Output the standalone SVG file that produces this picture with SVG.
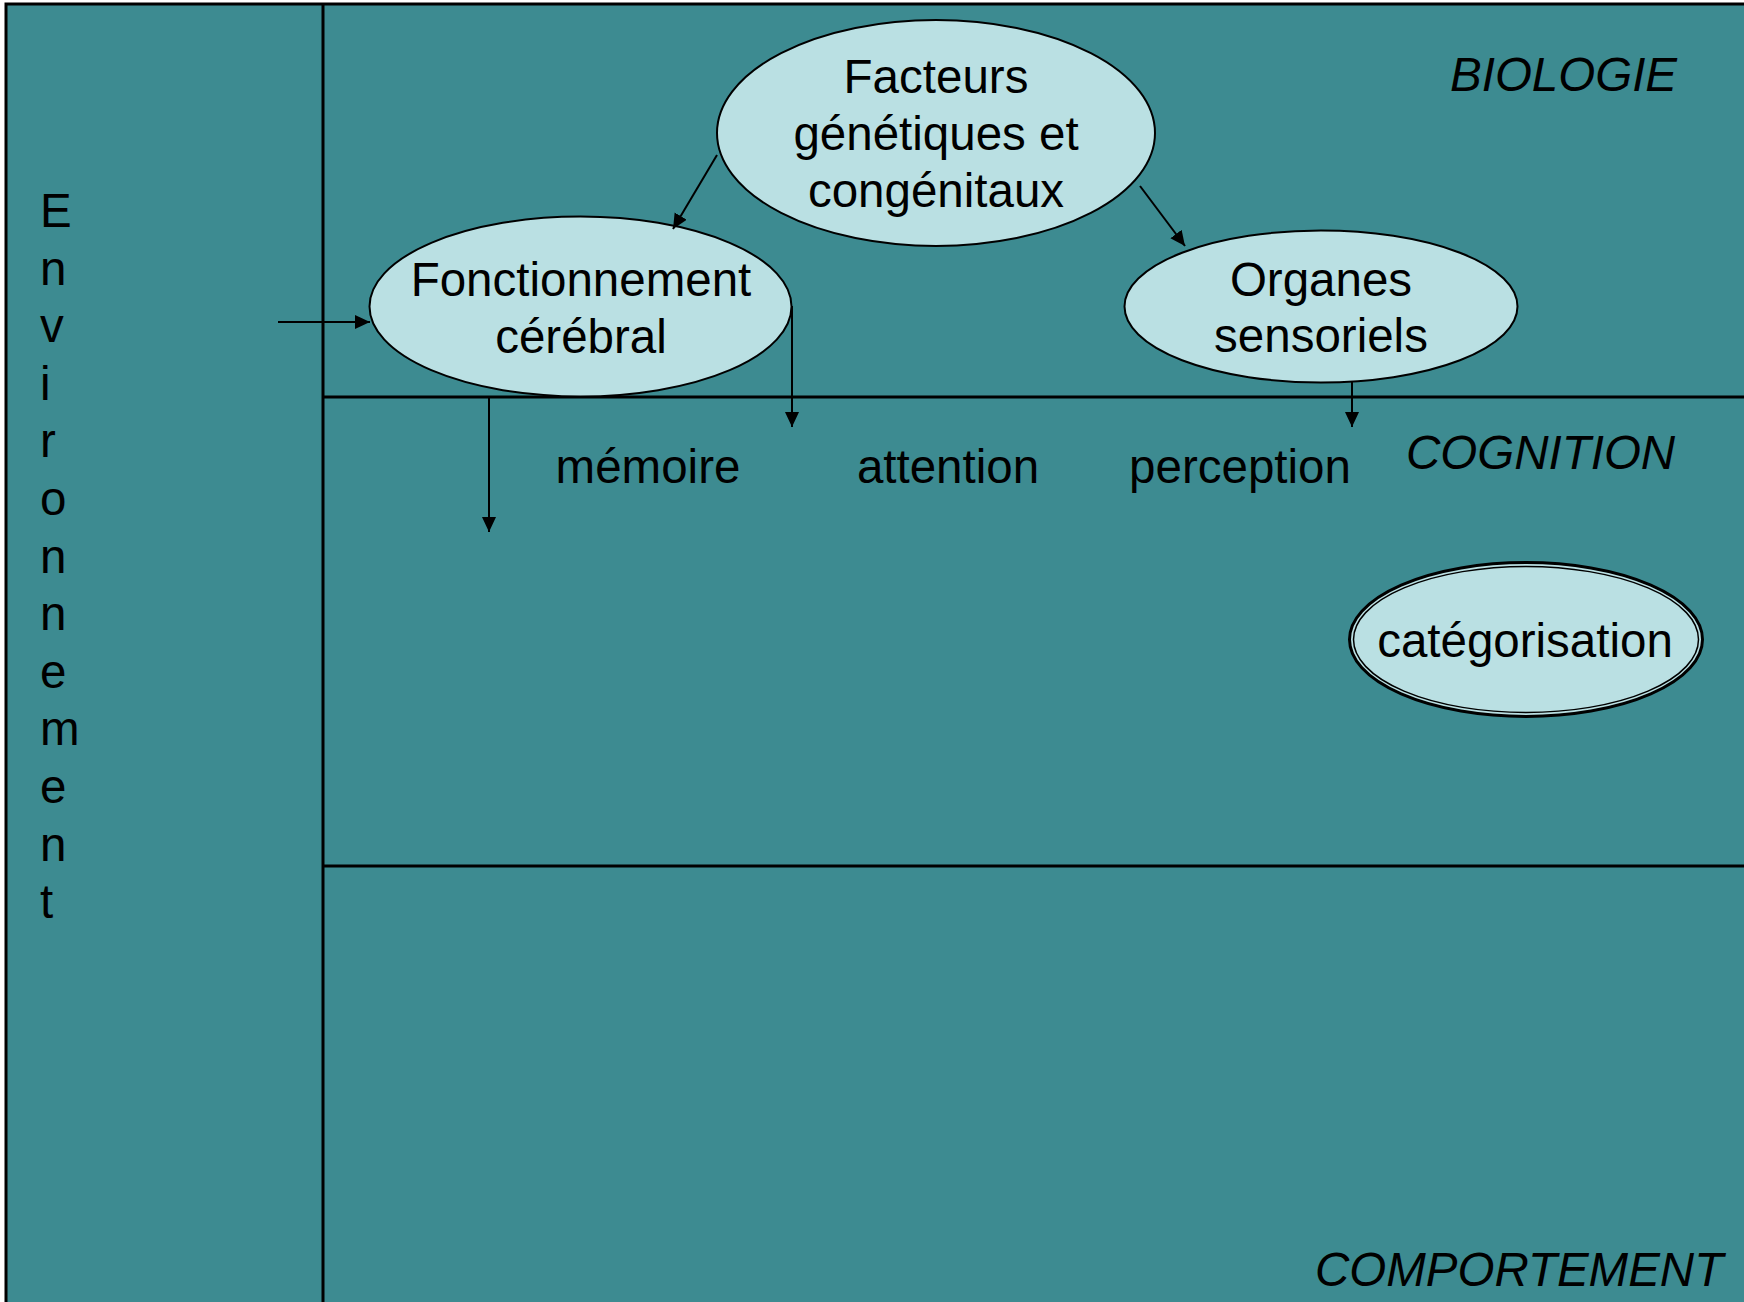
<svg xmlns="http://www.w3.org/2000/svg" width="1744" height="1302" viewBox="0 0 1744 1302">
<style>
  .t{font-family:"Liberation Sans",Arial,sans-serif;font-size:47.5px;fill:#000}
  .c{text-anchor:middle}
  .i{font-style:italic}
  .node{fill:#bae0e3;stroke:#000;stroke-width:2}
  .lane{stroke:#000;stroke-width:3}
  .conn line{stroke:#000;stroke-width:2}
</style>
<defs>
  <marker id="ah" markerUnits="userSpaceOnUse" markerWidth="16" markerHeight="16" refX="15" refY="7" orient="auto">
    <path d="M0,0 L15,7 L0,14 Z" fill="#000"/>
  </marker>
</defs>
<rect width="1744" height="1302" fill="#ffffff"/>
<g id="lanes">
  <rect x="6" y="4" width="1760" height="1320" class="lane" style="fill:#3d8b91"/>
  <line x1="323" y1="4" x2="323" y2="1310" class="lane"/>
  <line x1="323" y1="397" x2="1750" y2="397" class="lane"/>
  <line x1="323" y1="866" x2="1750" y2="866" class="lane"/>
</g>
<g id="env">
  <text class="t" x="40">
    <tspan x="40" y="227">E</tspan>
    <tspan x="40" y="284.6">n</tspan>
    <tspan x="40" y="342.2">v</tspan>
    <tspan x="40" y="399.8">i</tspan>
    <tspan x="40" y="457.4">r</tspan>
    <tspan x="40" y="515">o</tspan>
    <tspan x="40" y="572.6">n</tspan>
    <tspan x="40" y="630.2">n</tspan>
    <tspan x="40" y="687.8">e</tspan>
    <tspan x="40" y="745.4">m</tspan>
    <tspan x="40" y="803">e</tspan>
    <tspan x="40" y="860.6">n</tspan>
    <tspan x="40" y="918.2">t</tspan>
  </text>
</g>
<g id="lane-labels">
  <text class="t i" x="1450" y="91">BIOLOGIE</text>
  <text class="t i" x="1406" y="469">COGNITION</text>
  <text class="t i" x="1315" y="1286">COMPORTEMENT</text>
</g>
<g id="facteurs">
  <ellipse class="node" cx="936" cy="133" rx="219" ry="113"/>
  <text class="t c" x="936" y="93">Facteurs</text>
  <text class="t c" x="936" y="150">génétiques et</text>
  <text class="t c" x="936" y="207">congénitaux</text>
</g>
<g id="fonctionnement">
  <ellipse class="node" cx="580.5" cy="306.5" rx="211" ry="90"/>
  <text class="t c" x="581" y="296">Fonctionnement</text>
  <text class="t c" x="581" y="353">cérébral</text>
</g>
<g id="organes">
  <ellipse class="node" cx="1321" cy="306.5" rx="196.5" ry="76"/>
  <text class="t c" x="1321" y="296">Organes</text>
  <text class="t c" x="1321" y="352">sensoriels</text>
</g>
<g id="memoire"><text class="t c" x="648" y="483">mémoire</text></g>
<g id="attention"><text class="t c" x="948" y="483">attention</text></g>
<g id="perception"><text class="t c" x="1240" y="483">perception</text></g>
<g id="categorisation">
  <ellipse cx="1526" cy="639.5" rx="176.5" ry="77" fill="#bae0e3" stroke="#000" stroke-width="3"/>
  <ellipse cx="1526" cy="639.5" rx="172.5" ry="73" fill="none" stroke="#000" stroke-width="1.5"/>
  <text class="t c" x="1525" y="657">catégorisation</text>
</g>
<g id="connectors" class="conn">
  <line x1="278" y1="322" x2="370" y2="322" marker-end="url(#ah)"/>
  <line x1="717" y1="155" x2="673" y2="229" marker-end="url(#ah)"/>
  <line x1="1140" y1="186" x2="1185" y2="246" marker-end="url(#ah)"/>
  <line x1="792" y1="306" x2="792" y2="427" marker-end="url(#ah)"/>
  <line x1="489" y1="397" x2="489" y2="532" marker-end="url(#ah)"/>
  <line x1="1352" y1="382" x2="1352" y2="427" marker-end="url(#ah)"/>
</g>
</svg>
